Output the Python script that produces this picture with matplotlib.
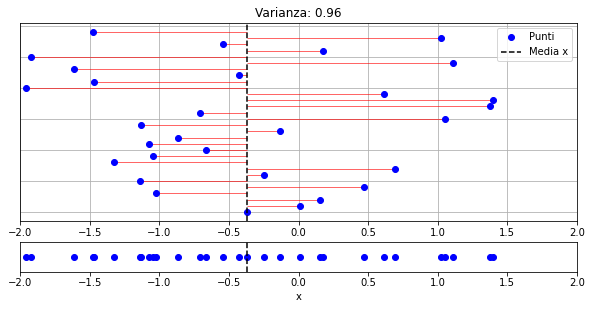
import numpy as np
import matplotlib
matplotlib.use("Agg")
import matplotlib.pyplot as plt

# valori x dei punti, indice = posizione verticale (0 in basso)
x_vals = [-0.370, 0.011, 0.154, -1.023, 0.470, -1.138, -0.248, 0.693, -1.325, -1.045,
          -0.664, -1.074, -0.865, -0.133, -1.131, 1.052, -0.707, 1.375, 1.397, 0.614,
          -1.957, -1.469, -0.427, -1.612, 1.110, -1.921, 0.176, -0.542, 1.023, -1.476]
titolo = "Varianza: 0.96"
x_ticks = [-2.0, -1.5, -1.0, -0.5, 0.0, 0.5, 1.0, 1.5, 2.0]

x = np.array(x_vals)
y = np.arange(len(x))
media = x.mean()

fig = plt.figure(figsize=(593 / 72, 309 / 72), dpi=72)
ax1 = fig.add_axes([20 / 593, 1 - 221 / 309, 557 / 593, 198 / 309])
ax2 = fig.add_axes([20 / 593, 1 - 271.5 / 309, 557 / 593, 29.5 / 309])

# linee dalla media ai punti
ax1.hlines(y, media, x, colors='red', alpha=0.6, linewidth=1)
ax1.plot(x, y, 'bo', label='Punti')
ax1.axvline(media, color='k', linestyle='--', label='Media x')
ax1.set_xlim(-2, 2)
ax1.set_xticks(x_ticks)
ax1.grid(True)
ax1.tick_params(axis='y', left=False, labelleft=False)
ax1.set_title(titolo)
ax1.legend(loc='upper right')

ax2.plot(x, np.zeros_like(x), 'bo')
ax2.axvline(media, color='k', linestyle='--')
ax2.set_xlim(-2, 2)
ax2.set_ylim(-0.05, 0.05)
ax2.set_xticks(x_ticks)
ax2.set_yticks([])
ax2.set_xlabel('x')

fig.savefig("out.png", dpi=72)
